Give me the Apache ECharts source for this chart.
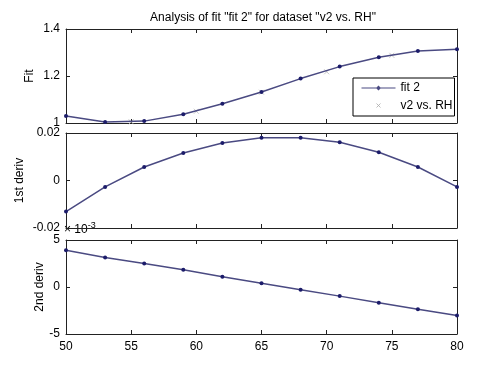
<!DOCTYPE html>
<html>
<head>
<meta charset="utf-8">
<script src="https://cdn.jsdelivr.net/npm/echarts@6/dist/echarts.min.js"></script>
<style>
  html, body { margin: 0; padding: 0; background: #fff; }
  #chart { width: 504px; height: 375px; }
</style>
</head>
<body>
<div id="chart"></div>
<script>
// 점검 x 좌표 (RH)
const xs = [50, 53, 56, 59, 62, 65, 68, 71, 74, 77, 80];
// fit 2 값
const fitVals = [1.030, 1.004, 1.008, 1.037, 1.082, 1.132, 1.189, 1.240, 1.280, 1.306, 1.314];
// 원 데이터(v2 vs. RH) — 흐린 x 표시
const dataX = [55, 60, 65, 70, 75];
const dataY = [1.005, 1.050, 1.131, 1.218, 1.288];
// 1차 도함수
const d1Vals = [-0.0131, -0.0027, 0.0057, 0.0116, 0.0158, 0.0180, 0.0180, 0.0161, 0.0119, 0.0057, -0.0027];
// 2차 도함수 (×10^-3)
const d2Vals = [3.90, 3.14, 2.50, 1.84, 1.10, 0.40, -0.30, -0.97, -1.67, -2.37, -3.03];

const FONT = "'Liberation Sans', Arial, sans-serif";
const LINE = "#4a4a82";
const MARK = "#1c1c6a";
const AX = "#222";

const grids = [
  { left: 66, top: 29, width: 391, height: 94 },
  { left: 66, top: 133, width: 391, height: 95 },
  { left: 66, top: 240, width: 391, height: 94 },
];

const pair = (x, y) => x.map((v, i) => [v, y[i]]);

function xAxisPair(gi, showLabels) {
  const base = {
    type: "value", gridIndex: gi, min: 50, max: 80, interval: 5,
    axisLine: { onZero: false, lineStyle: { color: AX, width: 1 } },
    axisTick: { inside: true, length: 4, lineStyle: { color: AX } },
    splitLine: { show: false },
  };
  return [
    Object.assign({}, base, {
      position: "bottom",
      axisLabel: { show: showLabels, color: "#000", fontSize: 12, fontFamily: FONT, margin: 7 },
    }),
    Object.assign({}, base, { position: "top", axisLabel: { show: false } }),
  ];
}

function yAxisPair(gi, min, max, interval, name, gap, fmt) {
  const base = {
    type: "value", gridIndex: gi, min, max, interval,
    axisLine: { onZero: false, lineStyle: { color: AX, width: 1 } },
    axisTick: { inside: true, length: 4, lineStyle: { color: AX } },
    splitLine: { show: false },
  };
  return [
    Object.assign({}, base, {
      position: "left",
      name, nameLocation: "middle", nameRotate: 90, nameGap: gap, nameMoveOverlap: false,
      nameTextStyle: { color: "#000", fontSize: 12, fontFamily: FONT },
      axisLabel: { color: "#000", fontSize: 12, fontFamily: FONT, margin: 6, formatter: fmt },
    }),
    Object.assign({}, base, { position: "right", axisLabel: { show: false } }),
  ];
}

const xPath = "path://M0,0L10,10M10,0L0,10";
// 범례용 아이콘: 가는 선 + 작은 마름모 / 작은 x (투명 외곽점으로 크기 고정)
const fitIcon = "path://M0,4.4L34,4.4L34,5.6L0,5.6Z M17,2.5L19.5,5L17,7.5L14.5,5Z";
const xIcon = "path://M0,0L0,0M34,10L34,10M15,3L19,7M19,3L15,7";

const option = {
  animation: false,
  backgroundColor: "#fff",
  textStyle: { fontFamily: FONT },
  title: {
    text: 'Analysis of fit "fit 2" for dataset "v2 vs. RH"',
    left: 258, top: 7, textAlign: "center",
    textStyle: { color: "#000", fontSize: 12, fontWeight: "normal", fontFamily: FONT },
  },
  grid: grids,
  legend: {
    left: 353, top: 78, orient: "vertical",
    backgroundColor: "#fff", borderColor: "#000", borderWidth: 1,
    padding: [4, 2, 3, 6], itemGap: 4, itemWidth: 34, itemHeight: 10,
    textStyle: { color: "#000", fontSize: 12, fontFamily: FONT },
    data: [
      { name: "fit 2", icon: fitIcon, itemStyle: { color: LINE } },
      { name: "v2 vs. RH", icon: xIcon, itemStyle: { color: "none", borderColor: "#aaa", borderWidth: 1 } },
    ],
  },
  xAxis: [].concat(xAxisPair(0, false), xAxisPair(1, false), xAxisPair(2, true)),
  yAxis: [].concat(
    yAxisPair(0, 1, 1.4, 0.2, "Fit", 30, (v) => String(Math.round(v * 10) / 10)),
    yAxisPair(1, -0.02, 0.02, 0.02, "1st deriv", 40, (v) => String(Math.round(v * 100) / 100)),
    yAxisPair(2, -5, 5, 5, "2nd deriv", 20, (v) => String(v))
  ),
  graphic: [
    {
      type: "text", left: 64, top: 221,
      style: {
        text: "{a|× 10}{b|-3}",
        rich: {
          a: { fontSize: 12, fontFamily: FONT, fill: "#000" },
          b: { fontSize: 9, fontFamily: FONT, fill: "#000", verticalAlign: "top", padding: [0, 0, 8, 0] },
        },
      },
    },
  ],
  series: [
    {
      name: "v2 vs. RH", type: "scatter", xAxisIndex: 0, yAxisIndex: 0,
      data: pair(dataX, dataY), symbol: xPath, symbolSize: 5,
      itemStyle: { color: "#bbb", borderColor: "#bbb", borderWidth: 1 }, z: 1,
    },
    {
      name: "fit 2", type: "line", xAxisIndex: 0, yAxisIndex: 0,
      data: pair(xs, fitVals), symbol: "circle", symbolSize: 4, showSymbol: true,
      lineStyle: { color: LINE, width: 1.5 }, itemStyle: { color: MARK }, z: 3,
    },
    {
      name: "fit 2 d1", type: "line", xAxisIndex: 2, yAxisIndex: 2,
      data: pair(xs, d1Vals), symbol: "circle", symbolSize: 4,
      lineStyle: { color: LINE, width: 1.5 }, itemStyle: { color: MARK },
    },
    {
      name: "fit 2 d2", type: "line", xAxisIndex: 4, yAxisIndex: 4,
      data: pair(xs, d2Vals), symbol: "circle", symbolSize: 4,
      lineStyle: { color: LINE, width: 1.5 }, itemStyle: { color: MARK },
    },
  ],
};

const chart = echarts.init(document.getElementById("chart"), null, { renderer: "canvas" });
chart.setOption(option);
</script>
</body>
</html>
